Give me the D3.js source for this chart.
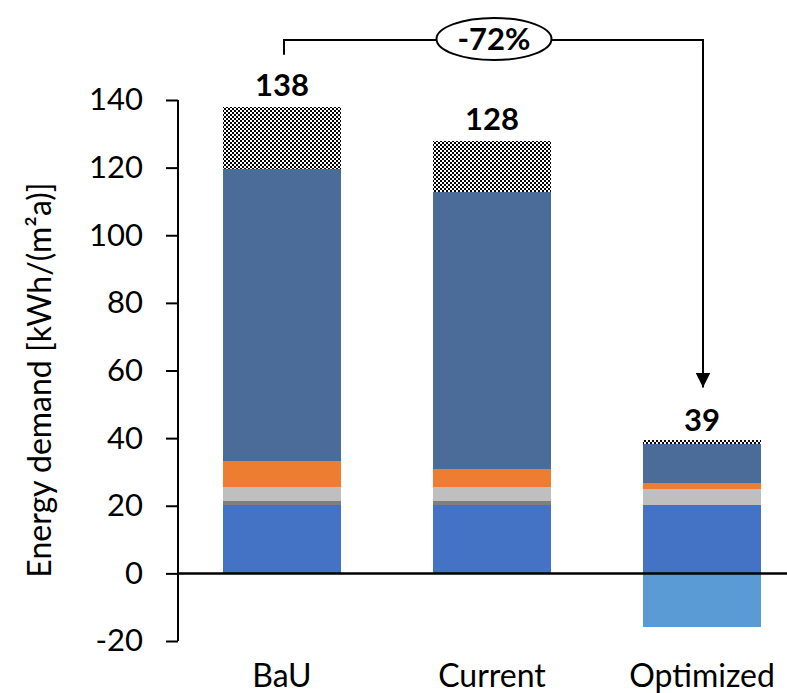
<!DOCTYPE html>
<html>
<head>
<meta charset="utf-8">
<script src="https://cdn.jsdelivr.net/npm/d3@7"></script>
<style>
  html, body { margin: 0; padding: 0; background: #fff; }
  svg { display: block; font-family: Lato, "Open Sans", sans-serif; }
</style>
</head>
<body>
<svg id="chart" width="787" height="693"></svg>
<script>
// Scenarios and their stacked energy-demand components [kWh/(m²a)]
const categories = ["BaU", "Current", "Optimized"];
const baseDemand   = [20.3, 20.3, 20.3];
const auxiliary    = [1.2, 1.2, 0.0];
const ventilation  = [4.1, 4.1, 4.7];
const hotWater     = [7.6, 5.3, 1.7];
const heating      = [86.4, 81.9, 11.5];
const reserve      = [18.4, 15.2, 1.3];
const generation   = [0, 0, -15.8];
const totals       = [138, 128, 39];
const yTicks       = [-20, 0, 20, 40, 60, 80, 100, 120, 140];
const reductionLabel = "-72%";

const seriesKeys = ["baseDemand", "auxiliary", "ventilation", "hotWater", "heating", "reserve"];
const seriesValues = { baseDemand, auxiliary, ventilation, hotWater, heating, reserve };
const seriesFill = {
  baseDemand: "#4472C4",
  auxiliary: "#7F7F7F",
  ventilation: "#BFBFBF",
  hotWater: "#ED7D31",
  heating: "#4B6B98",
  reserve: "url(#checker)"
};

const svg = d3.select("#chart");

// checkerboard fill for the reserve segment
const defs = svg.append("defs");
const pat = defs.append("pattern")
  .attr("id", "checker").attr("patternUnits", "userSpaceOnUse")
  .attr("width", 4).attr("height", 4);
pat.append("rect").attr("width", 4).attr("height", 4).attr("fill", "#fff");
pat.append("rect").attr("width", 2).attr("height", 2).attr("fill", "#000");
pat.append("rect").attr("x", 2).attr("y", 2).attr("width", 2).attr("height", 2).attr("fill", "#000");

const x = d3.scaleBand().domain(categories).range([177, 807])
  .paddingInner(0.438).paddingOuter(0.219);
const y = d3.scaleLinear().domain([-20, 140]).range([641, 100]);

// stacked table
const rows = categories.map((c, i) => {
  const r = { category: c };
  seriesKeys.forEach(k => r[k] = seriesValues[k][i]);
  return r;
});
const stack = d3.stack().keys(seriesKeys)(rows);

const g = svg.append("g");
stack.forEach(layer => {
  g.selectAll(null).data(layer).enter().append("rect")
    .attr("x", d => x(d.data.category))
    .attr("width", x.bandwidth())
    .attr("y", d => y(d[1]))
    .attr("height", d => Math.max(0, y(d[0]) - y(d[1])))
    .attr("fill", seriesFill[layer.key])
    .attr("shape-rendering", "crispEdges");
});

// negative (generation) bars
g.selectAll(null).data(categories.map((c, i) => ({ c, v: generation[i] })).filter(d => d.v < 0))
  .enter().append("rect")
  .attr("x", d => x(d.c))
  .attr("width", x.bandwidth())
  .attr("y", y(0))
  .attr("height", d => y(d.v) - y(0))
  .attr("fill", "#5B9BD5")
  .attr("shape-rendering", "crispEdges");

// y axis
const yAxis = svg.append("g")
  .attr("transform", "translate(178,0)")
  .call(d3.axisLeft(y).tickValues(yTicks).tickSize(12).tickPadding(23).tickFormat(d => String(d)));
yAxis.select(".domain").attr("stroke", "#000").attr("stroke-width", 2).attr("d", `M0,${y(140)}V${y(-20)}`);
yAxis.selectAll(".tick line").attr("stroke", "#000").attr("stroke-width", 2);
yAxis.selectAll(".tick text").attr("fill", "#000").attr("font-size", 31)
  .attr("font-family", "Lato, sans-serif");

// zero line
svg.append("line")
  .attr("x1", 178).attr("x2", 787).attr("y1", y(0)).attr("y2", y(0))
  .attr("stroke", "#000").attr("stroke-width", 2.5);

// category labels
svg.selectAll(null).data(categories).enter().append("text")
  .attr("x", d => x(d) + x.bandwidth() / 2)
  .attr("y", 687)
  .attr("text-anchor", "middle")
  .attr("font-size", 32)
  .attr("fill", "#000")
  .text(d => d);

// totals above bars
svg.selectAll(null).data(categories).enter().append("text")
  .attr("x", (d) => x(d) + x.bandwidth() / 2)
  .attr("y", (d, i) => y(totals[i]) - 11)
  .attr("text-anchor", "middle")
  .attr("font-size", 31)
  .attr("font-weight", "bold")
  .attr("fill", "#000")
  .text((d, i) => totals[i]);

// y axis title
svg.append("text")
  .attr("transform", "translate(51,380) rotate(-90)")
  .attr("text-anchor", "middle")
  .attr("font-size", 32)
  .attr("fill", "#000")
  .text("Energy demand [kWh/(m²a)]");

// reduction annotation: BaU → Optimized
const xa = x("BaU") + x.bandwidth() / 2 + 2;
const xb = x("Optimized") + x.bandwidth() / 2 + 1;
const yTop = 40;
defs.append("marker")
  .attr("id", "arrow").attr("viewBox", "0 0 10 10")
  .attr("refX", 10).attr("refY", 5)
  .attr("markerWidth", 7.5).attr("markerHeight", 7.5)
  .attr("markerUnits", "strokeWidth")
  .attr("orient", "auto")
  .append("path").attr("d", "M0,0L10,5L0,10Z").attr("fill", "#000");

svg.append("path")
  .attr("d", `M${xa},${y(totals[0]) - 52}V${yTop}H${xb}V${y(totals[2]) - 54}`)
  .attr("fill", "none").attr("stroke", "#000").attr("stroke-width", 2)
  .attr("marker-end", "url(#arrow)");

const ex = (xa + xb) / 2 + 0.5;
svg.append("ellipse")
  .attr("cx", ex).attr("cy", 39).attr("rx", 57.5).attr("ry", 21)
  .attr("fill", "#fff").attr("stroke", "#000").attr("stroke-width", 2);
svg.append("text")
  .attr("x", ex).attr("y", 50)
  .attr("text-anchor", "middle")
  .attr("font-size", 31).attr("font-weight", "bold").attr("fill", "#000")
  .text(reductionLabel);
</script>
</body>
</html>
